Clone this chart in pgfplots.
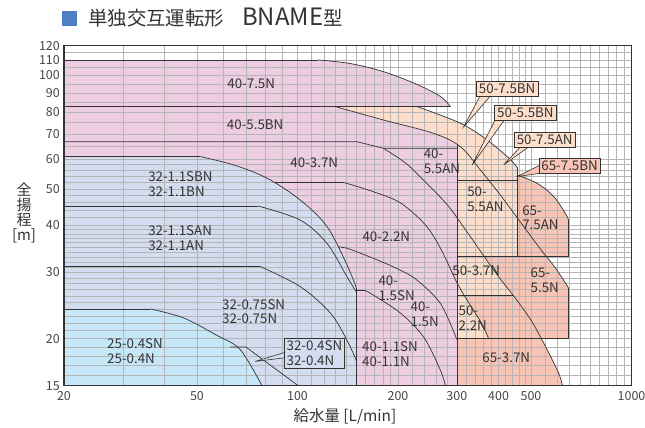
\documentclass[border=0pt]{standalone}
\usepackage{fontspec}
\setmainfont{Noto Sans CJK JP}
\usepackage{pgfplots}
\pgfplotsset{compat=1.18}
\definecolor{pinkc}{HTML}{EDCDE2}
\definecolor{bluegc}{HTML}{D3DDEF}
\definecolor{lbluec}{HTML}{C6E7F8}
\definecolor{peachc}{HTML}{FCDECB}
\definecolor{salmonc}{HTML}{F7C4B5}
\definecolor{linec}{HTML}{333333}
\definecolor{titleb}{HTML}{4D7FC3}
\definecolor{gridc}{HTML}{B5B5B5}
\definecolor{txtc}{HTML}{333333}
\newcommand\lab{\fontsize{13.4}{15}\selectfont}
\pgfplotsset{
  fp/.style={draw=none, on layer=axis background},
  fc/.style={draw=none, on layer=axis background, smooth, tension=0.55},
  ln/.style={draw=linec, line width=0.7bp, smooth, tension=0.55},
  ls/.style={draw=linec, line width=0.7bp},
}
\begin{document}
\begin{tikzpicture}
\begin{axis}[
  set layers,
  at={(0,0)}, anchor=south west,
  scale only axis, width=567.5bp, height=340bp,
  xmode=log, ymode=log,
  xmin=20, xmax=1000, ymin=15, ymax=120,
  xtick={20,50,100,200,300,400,500,1000},
  xticklabels={20,50,100,200,300,400,500,1000},
  ytick={15,20,30,40,50,60,70,80,90,100,110,120},
  yticklabels={15,20,30,40,50,60,70,80,90,100,110,120},
  minor xtick={30,40,60,70,80,90,110,120,130,140,150,160,170,180,190,220,240,260,280,320,340,360,380,420,440,460,480,550,600,650,700,750,800,850,900,950},
  minor ytick={16,17,18,19,21,22,23,24,25,26,27,28,29,31,32,33,34,35,36,37,38,39,42,44,46,48,52,54,56,58,65,75,85,95,105,115},
  grid=both,
  major grid style={line width=0.45bp, draw=gridc},
  minor grid style={line width=0.45bp, draw=gridc},
  major tick length=0pt, minor tick length=0pt,
  axis line style={line width=1.1bp, draw=black!80},
  tick label style={font=\fontsize{12.5}{13}\selectfont, text=black!72},
  xticklabel style={anchor=north, inner sep=0pt, yshift=-6bp},
  yticklabel style={anchor=east, inner sep=0pt, xshift=-4bp},
  /pgf/number format/assume math mode=true,
]
% ---------- fills: salmon (65) ----------
\addplot[fp, fill=salmonc] coordinates {(300,15) (621.5,15) (537.6,20) (647.6,20) (647.6,27.3) (556.5,33) (647.6,33) (647.6,40.8) (454.6,54.4) (300,54.4)};
\addplot[fc, fill=salmonc] coordinates {(621.5,15) (608.8,16.0) (584.2,17.3) (548.9,19.3) (537.6,20)};
\addplot[fc, fill=salmonc] coordinates {(647.6,27.3) (592.2,30.8) (556.5,33)};
\addplot[fc, fill=salmonc] coordinates {(454.6,54.4) (522,51.7) (585.2,47.7) (641.8,42.2) (647.6,40.8)};
% ---------- peach (50) ----------
\addplot[fp, fill=peachc] coordinates {(120,20) (120,82.7) (228,82.7) (454.6,57.0) (454.6,33) (362.9,33) (444.3,26) (317.8,26) (373.7,20)};
\addplot[fc, fill=peachc] coordinates {(228,82.7) (307.5,74.7) (369.7,67.4) (424.3,60.9) (444,58.5) (454.6,57.0)};
\addplot[fc, fill=peachc] coordinates {(362.9,33) (396.8,29.5) (444.3,26)};
\addplot[fc, fill=peachc] coordinates {(317.8,26) (329.4,24.5) (355.4,22) (373.7,20)};
% ---------- pink (40) ----------
\addplot[fp, fill=pinkc] coordinates {(20,15) (20,110) (115.4,110) (287,82.7) (129.8,82.7) (300,65.2) (300,15)};
\addplot[fc, fill=pinkc] coordinates {(115.4,110) (143.9,107.6) (180.7,102.4) (228,94.7) (267.8,88.0) (287,82.7)};
\addplot[fc, fill=pinkc] coordinates {(129.8,82.7) (180.7,76.2) (255.8,70.2) (300,65.2)};
% ---------- blue-gray (32) ----------
\addplot[fp, fill=bluegc] coordinates {(20,15) (20,60.9) (51.1,60.9) (150,27.3) (150,15)};
\addplot[fc, fill=bluegc] coordinates {(51.1,60.9) (64.3,57.9) (81,53.4) (101.9,46.7) (122.6,39.7) (140.7,31.4) (150,27.3)};
% ---------- light blue (25) ----------
\addplot[fp, fill=lbluec] coordinates {(20,15) (20,24) (36.2,24) (78.3,15)};
\addplot[fc, fill=lbluec] coordinates {(36.2,24) (45.6,22.7) (57.4,20.4) (67.4,18.7) (78.3,15)};
% ---------- outlines ----------
\addplot[ls] coordinates {(20,24) (36.2,24)};
\addplot[ln] coordinates {(36.2,24) (45.6,22.7) (57.4,20.4) (67.4,18.7) (78.3,15)};
\addplot[ls] coordinates {(20,60.9) (51.1,60.9)};
\addplot[ln] coordinates {(51.1,60.9) (64.3,57.9) (81,53.4) (101.9,46.7) (122.6,39.7) (140.7,31.4) (150,27.3)};
\addplot[ls] coordinates {(150,27.3) (150,15)};
\addplot[ls] coordinates {(20,45) (76.4,45)};
\addplot[ln] coordinates {(76.4,45) (101.9,41.3) (122.6,35.8) (140.7,29.2) (150,26.6)};
\addplot[ls] coordinates {(20,31.1) (77.3,31.1)};
\addplot[ln] coordinates {(77.3,31.1) (101.9,27.5) (125.4,23.4) (140.7,19.8) (150,17.5)};
\addplot[ls] coordinates {(62.9,19.0) (70.1,19.0) (100.5,15)};
\addplot[ls] coordinates {(20,110) (115.4,110)};
\addplot[ln] coordinates {(115.4,110) (143.9,107.6) (180.7,102.4) (228,94.7) (267.8,88.0) (287,82.7)};
\addplot[ls] coordinates {(20,82.7) (287,82.7)};
\addplot[ln] coordinates {(129.8,82.7) (180.7,76.2) (255.8,70.2) (307.5,64.7) (353,56.1) (405.3,48.1) (464.9,40.8) (533.8,34.6) (592.2,30.8) (647.6,27.3)};
\addplot[ls] coordinates {(20,66.7) (150.7,66.7) (180.7,64.1) (300,64.1)};
\addplot[ln] coordinates {(180.7,64.1) (210.4,58.6) (238.1,52.8) (281.1,45.3) (322.6,38.3) (357.7,33.6) (396.8,29.5) (449.3,25.6) (501.7,22.3) (548.9,19.3) (584.2,17.3) (608.8,16.0) (621.5,15)};
\addplot[ls] coordinates {(84.8,52.0) (137.4,52.0)};
\addplot[ln] coordinates {(137.4,52.0) (169,49.1) (203.2,45.9) (241.5,40.1) (269.7,34.4) (300,28.2) (329.4,24.5) (355.4,22.0) (373.7,20.0)};
\addplot[ls] coordinates {(132.5,35.1) (140.7,34.8)};
\addplot[ln] coordinates {(140.7,34.8) (173,32.4) (203.2,30.4) (228,28.6) (267.8,24.8) (300,19.9)};
\addplot[ls] coordinates {(150,26.9) (157.7,26.9)};
\addplot[ln] coordinates {(157.7,26.9) (165.2,26.4) (203.2,23.4) (238.6,20.2) (267.8,16.5) (277.2,15)};
\addplot[ls] coordinates {(300,15) (300,65.2)};
\addplot[ln] coordinates {(228,82.7) (307.5,74.7) (369.7,67.4) (424.3,60.9) (444,58.5) (454.6,57.0)};
\addplot[ls] coordinates {(454.6,57.0) (454.6,33)};
\addplot[ls] coordinates {(300,52.8) (454.6,52.8)};
\addplot[ls] coordinates {(300,33) (647.6,33)};
\addplot[ls] coordinates {(300,26) (444.3,26)};
\addplot[ls] coordinates {(300,20) (647.6,20)};
\addplot[ln] coordinates {(454.6,54.4) (522,51.7) (585.2,47.7) (641.8,42.2) (647.6,40.8)};
\addplot[ls] coordinates {(647.6,40.8) (647.6,33)};
\addplot[ls] coordinates {(647.6,27.3) (647.6,20)};
% ---------- labels ----------
\begin{scope}[every node/.style={font=\lab, text=txtc, inner sep=0pt}]
\node at (72.7,95.0) {40-7.5N};
\node at (74.7,73.9) {40-5.5BN};
\node at (112.3,58.6) {40-3.7N};
\node[anchor=west, align=left] at (35.7,51.6) {32-1.1SBN\\32-1.1BN};
\node[anchor=west, align=left] at (35.7,37.1) {32-1.1SAN\\32-1.1AN};
\node[anchor=west, align=left] at (59.4,23.6) {32-0.75SN\\32-0.75N};
\node[anchor=west, align=left] at (26.9,18.5) {25-0.4SN\\25-0.4N};
\node[anchor=west, align=left] at (156,18.2) {40-1.1SN\\40-1.1N};
\node at (184.5,37.4) {40-2.2N};
\node[anchor=west, align=left] at (174.6,27.3) {40-\\1.5SN};
\node[anchor=west, align=left] at (217.8,23.2) {40-\\1.5N};
\node[anchor=west, align=left] at (238.6,59.1) {40-\\5.5AN};
\node[anchor=west, align=left] at (322,46.9) {50-\\5.5AN};
\node at (342.8,30.3) {50-3.7N};
\node[anchor=west, align=left] at (303.3,22.6) {50-\\2.2N};
\node at (421.7,17.8) {65-3.7N};
\node[anchor=west, align=left] at (498.3,28.6) {65-\\5.5N};
\node[anchor=west, align=left] at (470.5,41.9) {65-\\7.5AN};
\end{scope}
% ---------- callouts ----------
\draw[line width=0.6bp, draw=linec, fill=bluegc] (91.9,18.4) -- (74.7,17.4) -- (91.9,17.8);
\node[draw=linec, fill=bluegc, line width=0.6bp, inner sep=2.5bp, align=left, font=\lab, text=txtc] at (112.4,18.3) {32-0.4SN\\32-0.4N};
\draw[line width=0.6bp, draw=linec, fill=peachc] (357,90.3) -- (314.6,73.1) -- (386.7,90.3);
\node[draw=linec, fill=peachc, line width=0.6bp, inner sep=2.5bp, font=\lab, text=txtc] at (424.3,92.3) {50-7.5BN};
\draw[line width=0.6bp, draw=linec, fill=peachc] (396,78) -- (333.4,57.9) -- (424.3,78);
\node[draw=linec, fill=peachc, line width=0.6bp, inner sep=2.5bp, font=\lab, text=txtc] at (481.3,79.6) {50-5.5BN};
\draw[line width=0.6bp, draw=linec, fill=peachc] (475.8,66.1) -- (414.6,57.9) -- (509.8,66.1);
\node[draw=linec, fill=peachc, line width=0.6bp, inner sep=2.5bp, font=\lab, text=txtc] at (549.6,67.5) {50-7.5AN};
\draw[line width=0.6bp, draw=linec, fill=salmonc] (533.8,57.9) -- (454.6,53.9) -- (533.8,55.0);
\node[draw=linec, fill=salmonc, line width=0.6bp, inner sep=2.5bp, font=\lab, text=txtc] at (652.7,57.7) {65-7.5BN};
\end{axis}
% title and axis labels
\fill[titleb] (-2bp,360bp) rectangle (13bp,375bp);
\node[anchor=base west, inner sep=0pt, font=\fontsize{19.5}{22}\selectfont, text=txtc] at (24bp,360.2bp) {単独交互運転形};
\node[anchor=base west, inner sep=0pt, text=txtc] at (178bp,360.2bp) {{\fontsize{24}{24}\selectfont BNAME}{\fontsize{19.5}{22}\selectfont 型}};
\node[align=center, inner sep=0pt, font=\fontsize{15}{15}\selectfont, text=txtc] at (-40bp,172.4bp) {全\\揚\\程\\{[m]}};
\node[inner sep=0pt, font=\fontsize{15.5}{16}\selectfont, text=txtc] at (281bp,-30.3bp) {給水量 [L/min]};
\pgfresetboundingbox
\path[use as bounding box] (-64bp,-42.3bp) rectangle (581bp,385.7bp);
\end{tikzpicture}
\end{document}
